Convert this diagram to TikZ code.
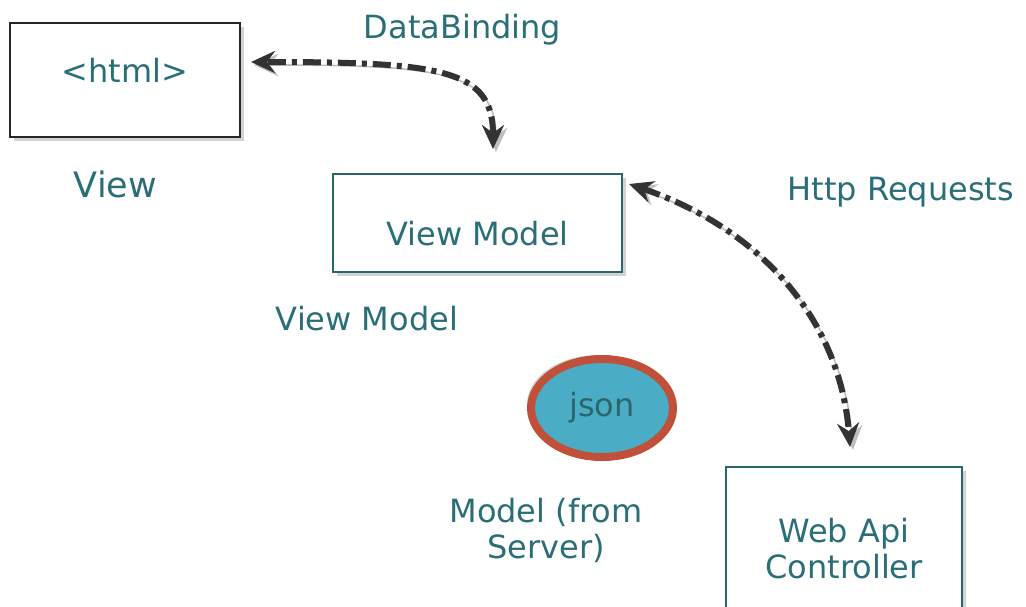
\documentclass[tikz,border=0pt]{standalone}
\usepackage{fontspec}
\setmainfont{DejaVu Sans}
\usetikzlibrary{positioning,shapes,arrows.meta,shadows}
\definecolor{tealtext}{HTML}{2A6E78}
\definecolor{tealline}{HTML}{2C666D}
\definecolor{jsonblue}{HTML}{4BACC6}
\definecolor{jsonred}{HTML}{C0503A}
\definecolor{arrowgray}{HTML}{333333}

\begin{document}
\begin{tikzpicture}[x=0.5pt, y=-0.5pt, thick, >={Stealth[length=12pt,width=11pt,inset=4pt]},
	box/.style={draw=tealline, line width=1pt, fill=white, text=tealtext, inner sep=0pt,
		font=\fontsize{16pt}{18pt}\selectfont,
		drop shadow={opacity=0.35, shadow xshift=2pt, shadow yshift=-2pt}},
	lbl/.style={text=tealtext, inner sep=0pt, anchor=base west, font=\fontsize{16pt}{18pt}\selectfont},
	link/.style={<->, draw=arrowgray, line width=3pt, dash pattern=on 9pt off 3pt on 2.5pt off 3pt,
		preaction={draw=black!25, transform canvas={shift={(1.5pt,-1.5pt)}}}}]
	\useasboundingbox (0,0) rectangle (1026,606);
	\clip (0,0) rectangle (1026,606);

	\node[box, draw=black!85, minimum width=115pt, minimum height=57pt, text depth=9.5pt] (html) at (125,80) {<html>};
	\node[box, minimum width=144.5pt, minimum height=49pt, text height=22pt, text depth=0pt] (vm) at (477.5,223) {View Model};
	\node[box, minimum width=118pt, minimum height=82pt, anchor=north, align=center] (api) at (844,466) {Web Api\\Controller};
	\node[ellipse, draw=jsonred, line width=4pt, fill=jsonblue, text=tealline, minimum width=71pt, minimum height=49pt,
		inner sep=0pt, font=\fontsize{16pt}{18pt}\selectfont,
		drop shadow={opacity=0.35, shadow xshift=-2pt, shadow yshift=2pt}] (json) at (602,408) {json};

	\node[lbl, font=\fontsize{17.5pt}{20pt}\selectfont] (viewlbl) at (73,197) {View};
	\node[lbl] (binding) at (363,38) {DataBinding};
	\node[lbl] (vmlbl) at (275,330) {View Model};
	\node[lbl] (http) at (787,200) {Http Requests};
	\node[lbl, anchor=center, align=center] (modellbl) at (546,530) {Model (from\\Server)};

	\draw[link] ([shift={(15.5,-24)}]vm.north) .. controls +(0,-80) and +(190,0) .. ([shift={(10,-18)}]html.east);
	\draw[link] ([shift={(6,11)}]vm.north east) .. controls +(132,45) and +(-10,-127) .. ([shift={(6,-19)}]api.north);
\end{tikzpicture}
\end{document}
